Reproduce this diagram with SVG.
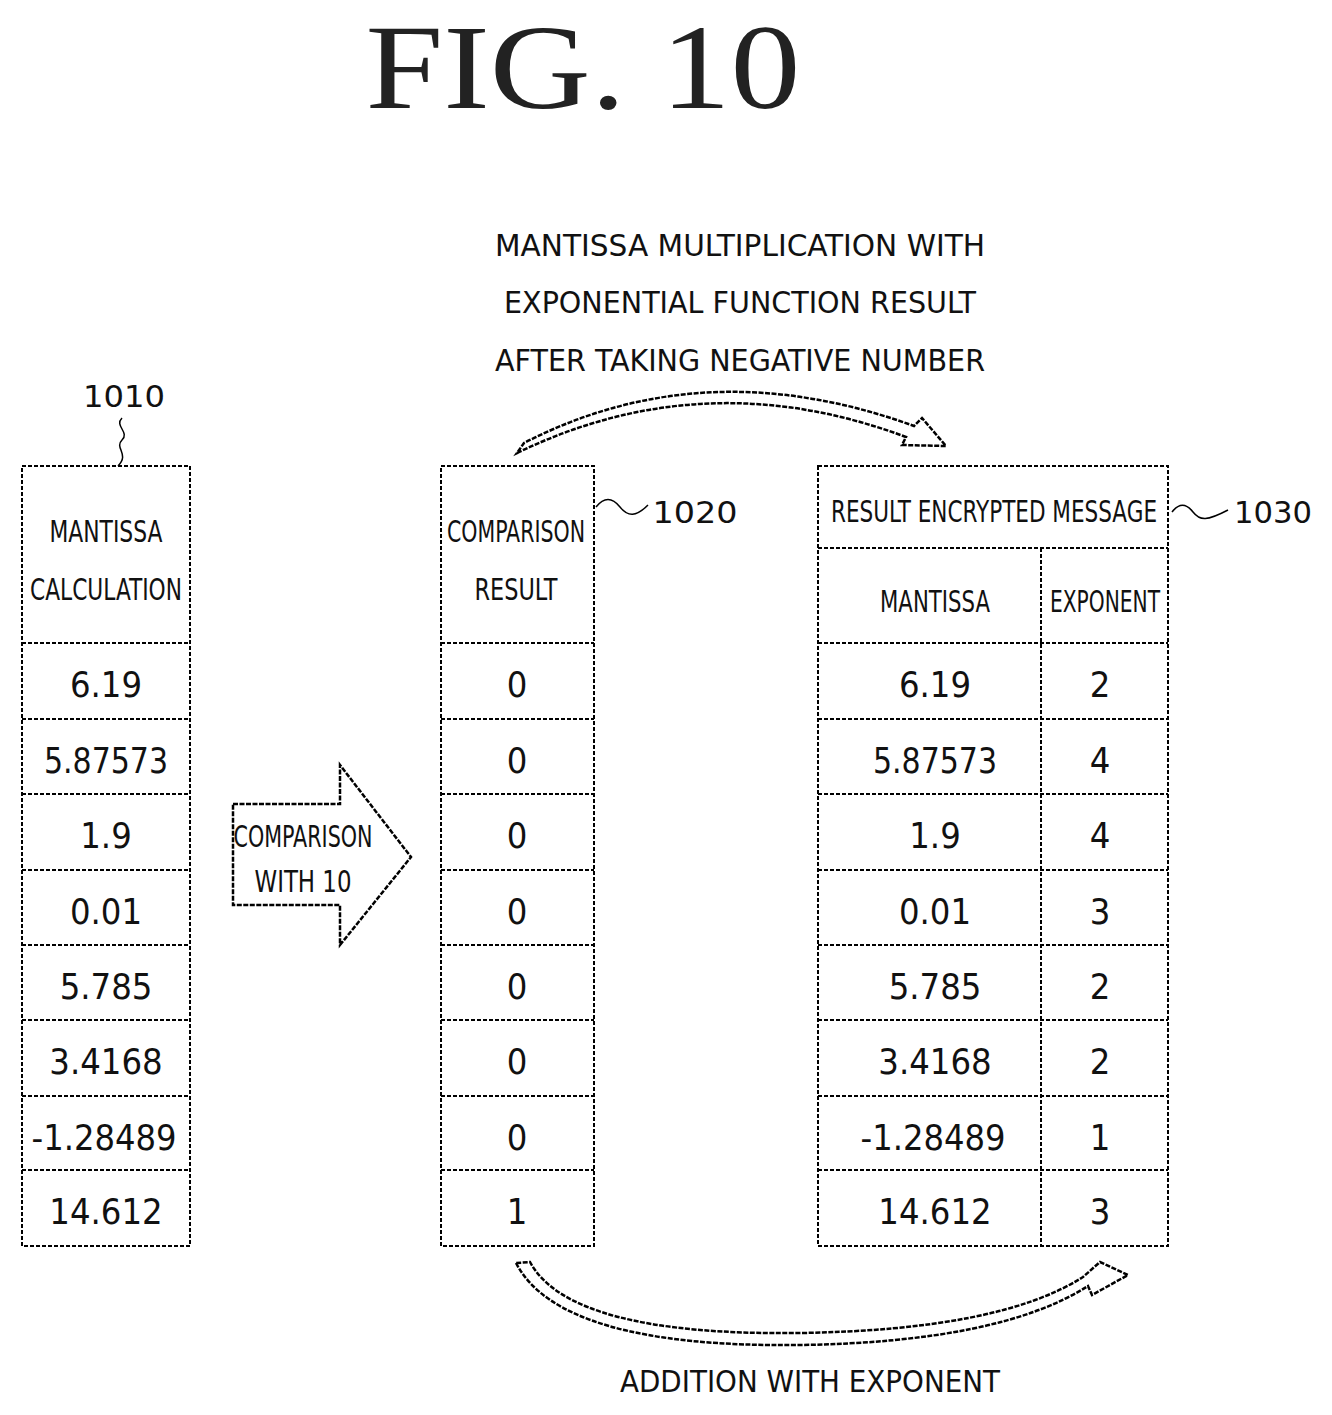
<svg xmlns="http://www.w3.org/2000/svg" width="1332" height="1415" viewBox="0 0 1332 1415">
<style>
.b{fill:none;stroke:#000;stroke-width:2;stroke-dasharray:4,2}
.t{font-family:"DejaVu Sans Condensed","Liberation Sans",sans-serif;font-size:36px;text-anchor:middle;fill:#111}
.h{font-family:"DejaVu Sans Condensed","Liberation Sans",sans-serif;font-size:31px;text-anchor:middle;fill:#111}
.a{fill:#fff;stroke:#000;stroke-width:2.5;stroke-dasharray:5,1.5}
</style>
<rect width="1332" height="1415" fill="#fff"/>
<text x="583" y="108" font-family="Liberation Serif,serif" font-size="120" text-anchor="middle" fill="#222" textLength="435" lengthAdjust="spacingAndGlyphs">FIG. 10</text>
<g id="caption-top">
<text class="h" x="740" y="256" textLength="490" lengthAdjust="spacingAndGlyphs">MANTISSA MULTIPLICATION WITH</text>
<text class="h" x="740" y="313" textLength="472" lengthAdjust="spacingAndGlyphs">EXPONENTIAL FUNCTION RESULT</text>
<text class="h" x="740" y="371" textLength="490" lengthAdjust="spacingAndGlyphs">AFTER TAKING NEGATIVE NUMBER</text>
</g>
<text class="h" x="810" y="1392" textLength="380" lengthAdjust="spacingAndGlyphs">ADDITION WITH EXPONENT</text>
<g id="n1010">
<text class="h" x="124" y="407" font-size="38" textLength="82" lengthAdjust="spacingAndGlyphs">1010</text>
<rect class="b" x="22" y="466" width="168" height="780"/>
<path class="b" d="M22,643H190M22,719H190M22,794H190M22,870H190M22,945H190M22,1020H190M22,1096H190M22,1170H190"/>
<text class="h" x="106" y="542" textLength="113" lengthAdjust="spacingAndGlyphs">MANTISSA</text>
<text class="h" x="106" y="600" textLength="152" lengthAdjust="spacingAndGlyphs">CALCULATION</text>
<text class="t" x="106" y="697">6.19</text>
<text class="t" x="106" y="773" textLength="124" lengthAdjust="spacingAndGlyphs">5.87573</text>
<text class="t" x="106" y="848">1.9</text>
<text class="t" x="106" y="924">0.01</text>
<text class="t" x="106" y="999">5.785</text>
<text class="t" x="106" y="1074">3.4168</text>
<text class="t" x="104" y="1150" textLength="145" lengthAdjust="spacingAndGlyphs">-1.28489</text>
<text class="t" x="106" y="1224">14.612</text>
</g>
<g id="n1020">
<rect class="b" x="441" y="466" width="153" height="780"/>
<path class="b" d="M441,643H594M441,719H594M441,794H594M441,870H594M441,945H594M441,1020H594M441,1096H594M441,1170H594"/>
<text class="h" x="516" y="542" textLength="138" lengthAdjust="spacingAndGlyphs">COMPARISON</text>
<text class="h" x="516" y="600" textLength="83" lengthAdjust="spacingAndGlyphs">RESULT</text>
<text class="t" x="517" y="697">0</text><text class="t" x="517" y="773">0</text><text class="t" x="517" y="848">0</text><text class="t" x="517" y="924">0</text>
<text class="t" x="517" y="999">0</text><text class="t" x="517" y="1074">0</text><text class="t" x="517" y="1150">0</text><text class="t" x="517" y="1224">1</text>
<text class="h" x="695" y="523" font-size="38" textLength="85" lengthAdjust="spacingAndGlyphs">1020</text>
</g>
<g id="n1030">
<rect class="b" x="818" y="466" width="350" height="780"/>
<path class="b" d="M818,548H1168M818,643H1168M818,719H1168M818,794H1168M818,870H1168M818,945H1168M818,1020H1168M818,1096H1168M818,1170H1168M1041,548V1246"/>
<text class="h" x="994" y="522" textLength="326" lengthAdjust="spacingAndGlyphs">RESULT ENCRYPTED MESSAGE</text>
<text class="h" x="935" y="612" textLength="110" lengthAdjust="spacingAndGlyphs">MANTISSA</text>
<text class="h" x="1105" y="612" textLength="110" lengthAdjust="spacingAndGlyphs">EXPONENT</text>
<text class="t" x="935" y="697">6.19</text><text class="t" x="935" y="773" textLength="124" lengthAdjust="spacingAndGlyphs">5.87573</text><text class="t" x="935" y="848">1.9</text><text class="t" x="935" y="924">0.01</text>
<text class="t" x="935" y="999">5.785</text><text class="t" x="935" y="1074">3.4168</text><text class="t" x="933" y="1150" textLength="145" lengthAdjust="spacingAndGlyphs">-1.28489</text><text class="t" x="935" y="1224">14.612</text>
<text class="t" x="1100" y="697">2</text><text class="t" x="1100" y="773">4</text><text class="t" x="1100" y="848">4</text><text class="t" x="1100" y="924">3</text>
<text class="t" x="1100" y="999">2</text><text class="t" x="1100" y="1074">2</text><text class="t" x="1100" y="1150">1</text><text class="t" x="1100" y="1224">3</text>
<text class="h" x="1273" y="523" font-size="38" textLength="78" lengthAdjust="spacingAndGlyphs">1030</text>
</g>
<g id="connectors">
<path d="M122,418c-8,8 8,14 0,22s8,14 -4,26" fill="none" stroke="#000" stroke-width="1.5"/>
<path d="M596,507c8,-10 16,-10 24,0s16,10 28,-2" fill="none" stroke="#000" stroke-width="1.5"/>
<path d="M1172,512c7,-9 14,-9 21,0s14,9 35,-2" fill="none" stroke="#000" stroke-width="1.5"/>
<path class="a" d="M233,804H340V765L411,857L340,945V905H233Z"/>
<path class="a" d="M517,453Q705,362 906,437L902,445L946,446L922,418L914,426Q705,350 524,443Z"/>
<path class="a" d="M516,1263Q560,1348 800,1345Q1000,1342 1088,1286L1092,1295L1128,1275L1100,1262L1083,1277Q1000,1330 800,1333Q570,1336 530,1262Z"/>
</g>
<text class="h" x="303" y="847" font-size="34" textLength="139" lengthAdjust="spacingAndGlyphs">COMPARISON</text>
<text class="h" x="303" y="892" font-size="34" textLength="97" lengthAdjust="spacingAndGlyphs">WITH 10</text>
</svg>
